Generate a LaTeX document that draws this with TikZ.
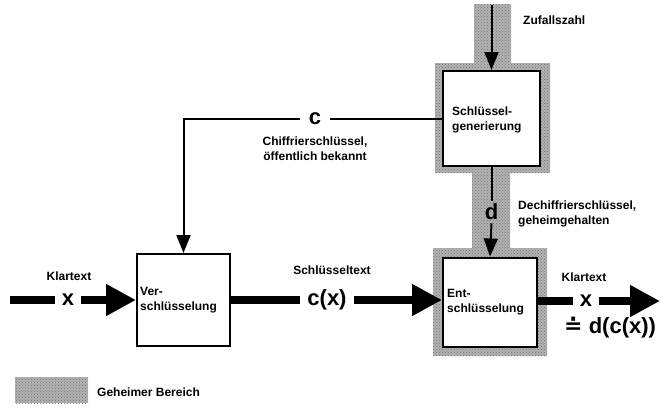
\documentclass[tikz,border=0pt]{standalone}
\usepackage{fontspec}
\setmainfont{Liberation Sans}
\newfontfamily\symfont{DejaVu Sans}
\usetikzlibrary{arrows.meta,patterns}
\definecolor{secret}{gray}{0.70}
\definecolor{secretdot}{gray}{0.45}
\begin{document}
\begin{tikzpicture}[x=1pt,y=-1pt,
  secretfill/.style={fill=secret,postaction={pattern=crosshatch dots,pattern color=secretdot}},
  box/.style={draw,line width=2pt,fill=white,inner sep=0pt},
  lbl/.style={font=\fontsize{12}{15}\selectfont\bfseries,inner sep=1pt},
  big/.style={font=\fontsize{22}{24}\selectfont\bfseries,inner xsep=7pt,inner ysep=2pt},
  boxtext/.style={font=\fontsize{12}{15}\selectfont\bfseries,align=left,anchor=west,inner sep=0pt},
  thickline/.style={line width=8pt},
  bigarrow/.style={line width=8pt,-{Triangle[length=30pt,width=30pt]}},
  thinline/.style={line width=2pt},
  thinarrow/.style={line width=2pt,-{Triangle[length=18pt,width=14pt]}}]
\useasboundingbox (0,0) rectangle (661,408);
% secret region
\path[secretfill] (474,4) -- (511,4) -- (511,63) -- (550,63) -- (550,173) -- (510,173)
  -- (510,248) -- (547,248) -- (547,356) -- (433,356) -- (433,248) -- (472,248)
  -- (472,173) -- (435,173) -- (435,63) -- (474,63) -- cycle;
% boxes
\node[box,minimum width=93pt,minimum height=92pt] (ver) at (183.5,300) {};
\node[box,minimum width=97pt,minimum height=95pt] (keygen) at (491.5,118.5) {};
\node[box,minimum width=94pt,minimum height=89pt] (ent) at (490,302) {};
\node[boxtext] (vert) at ([xshift=4pt]ver.west) {Ver-\\schlüsselung};
\node[boxtext] (keyt) at ([xshift=10pt,yshift=-1pt]keygen.west) {Schlüssel-\\generierung};
\node[boxtext] (entt) at ([xshift=5pt]ent.west) {Ent-\\schlüsselung};
% labels
\node[lbl,anchor=west] (zuf) at (522,20) {Zufallszahl};
\node[lbl,align=center] (chiff) at (315,149) {Chiffrierschlüssel,\\öffentlich bekannt};
\node[lbl,align=left,anchor=west] (dechiff) at (517,214) {Dechiffrierschlüssel,\\geheimgehalten};
\node[lbl] (klarl) at (69,276) {Klartext};
\node[lbl] (schl) at (332,270) {Schlüsseltext};
\node[lbl] (klarr) at (584,277) {Klartext};
\node[big] (xl) at (68,300) {x};
\node[big] (cx) at (327,300) {c(x)};
\node[big] (xr) at (586,301) {x};
\node[big,anchor=west] (dcx) at (557,328) {{\symfont ≐} d(c(x))};
\node[big,inner xsep=9pt] (c) at (315,118.5) {c};
\node[big,inner xsep=3pt,inner ysep=3pt,secretfill] (d) at (491.5,212) {d};
% connectors
\coordinate (top) at (491.5,5);
\coordinate (in) at (10,300);
\coordinate (out) at (660,301);
\draw[thinarrow] (top) -- (keygen.north);
\draw[thinline] (keygen.west) -- (c.east);
\draw[thinarrow] (c.west) -| (ver.north);
\draw[thinline] (keygen.south) -- (d.north);
\draw[thinarrow] (d.south) -- (ent.north);
\draw[thickline] (in) -- (xl.west);
\draw[bigarrow] (xl.east) -- (ver.west);
\draw[thickline] (ver.east) -- (cx.west);
\draw[bigarrow] (cx.east) -- (ent.west |- cx.east);
\draw[thickline] (ent.east |- xr.west) -- (xr.west);
\draw[bigarrow] (xr.east) -- (out);
% legend
\path[secretfill] (15,377) rectangle (88,403);
\node[lbl,anchor=west] (leg) at (96,392) {Geheimer Bereich};
\end{tikzpicture}
\end{document}
